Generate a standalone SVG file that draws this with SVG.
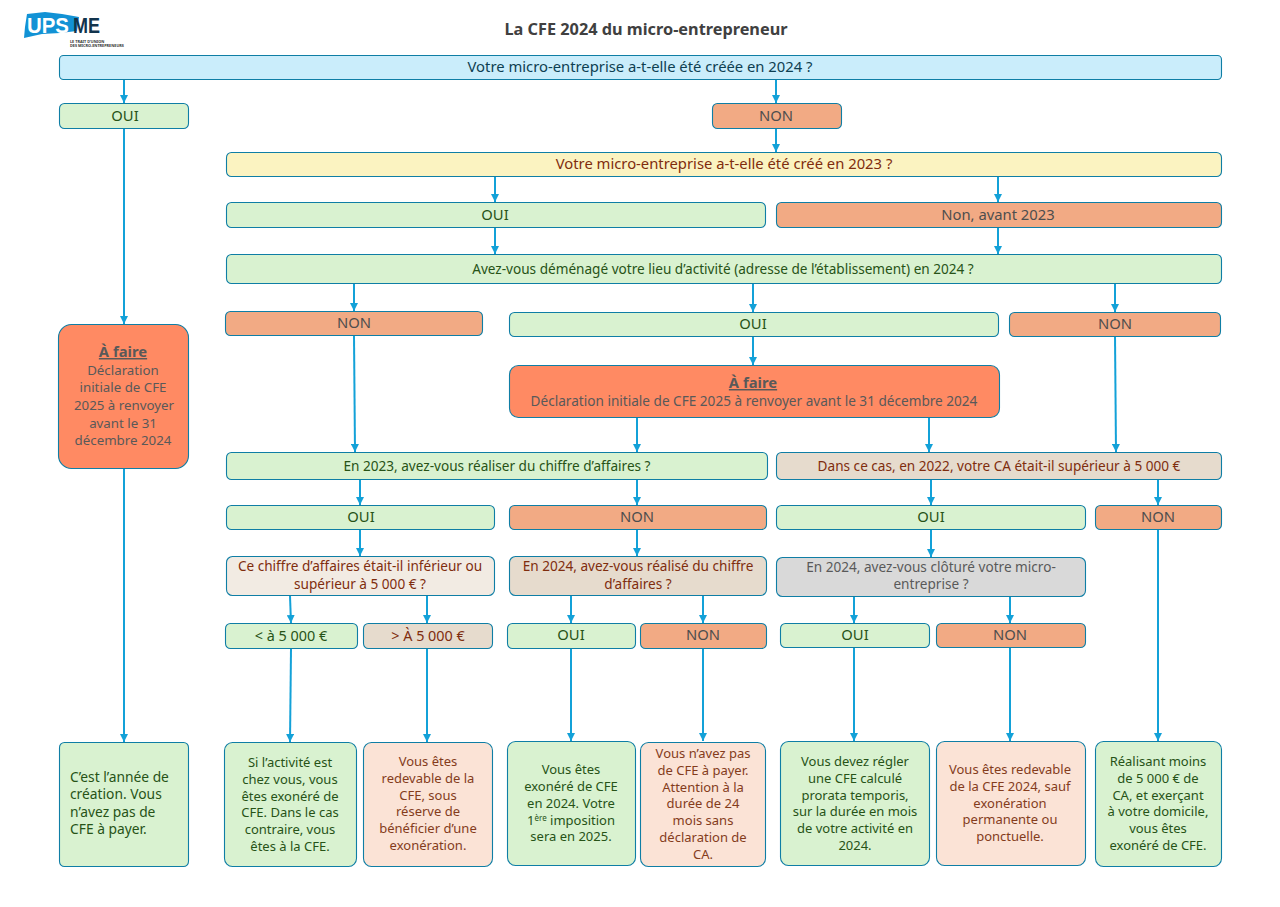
<svg xmlns="http://www.w3.org/2000/svg" width="1280" height="907" viewBox="0 0 1280 907">
<style>
text{font-family:"Noto Sans","Liberation Sans",sans-serif;text-anchor:middle;font-size:13px}
.b{stroke:#0f7ea5;stroke-width:1.1}
.g{fill:#d9f2d0}.gt{fill:#275317}
.o{fill:#f2aa84}.ot{fill:#4e4e4e}
.bl{fill:#caedfb}.blt{fill:#0e3f52}
.y{fill:#fbf3c1}.yt{fill:#7f2d0e}
.f{fill:#ff8a63}.ft{fill:#595959}
.s{fill:#e6dbcd}.st{fill:#7f2d0e}
.s2{fill:#f2ebe3}
.gr{fill:#d9d9d9}.grt{fill:#595959}
.p{fill:#fbe3d6}.pt{fill:#843c1c}
.l{font-size:14.8px}
.m{font-size:13.6px}
.v{font-size:14.4px}
.c line{stroke:#13a1d8;stroke-width:2;marker-end:url(#a)}
</style>
<defs><marker id="a" markerUnits="userSpaceOnUse" markerWidth="9" markerHeight="8" refX="8" refY="4" orient="auto"><path d="M0 0L8 4L0 8Z" fill="#13a1d8"/></marker></defs>
<rect width="1280" height="907" fill="#fff"/>
<g id="logo">
<path d="M27 14L45 12L62 14L79 17L77 31L60 33L42 34L24 38L25 27Z" fill="#1292d5"/>
<text x="27" y="33" style="font-size:22px;font-weight:700;font-family:'Liberation Sans';fill:#fff;text-anchor:start" textLength="42" lengthAdjust="spacingAndGlyphs">UPS</text>
<text x="73" y="33" style="font-size:22px;font-weight:700;font-family:'Liberation Sans';fill:#12344d;text-anchor:start" textLength="27" lengthAdjust="spacingAndGlyphs">ME</text>
<text x="70" y="43" style="font-size:3.8px;font-weight:700;text-anchor:start;fill:#333">LE TRAIT D’UNION</text>
<text x="70" y="47" style="font-size:3.8px;font-weight:700;text-anchor:start;fill:#333">DES MICRO-ENTREPRENEURS</text>
</g>
<text id="title" x="646" y="35" style="font-size:16.3px;font-weight:700;fill:#404040">La CFE 2024 du micro-entrepreneur</text>
<g class="c">
<line x1="124" y1="80" x2="124" y2="103"/>
<line x1="776" y1="80" x2="776" y2="103"/>
<line x1="776" y1="129" x2="776" y2="152"/>
<line x1="495" y1="177" x2="495" y2="202"/>
<line x1="998" y1="177" x2="998" y2="202"/>
<line x1="495" y1="228" x2="495" y2="254"/>
<line x1="998" y1="228" x2="998" y2="254"/>
<line x1="124" y1="129" x2="124" y2="324"/>
<line x1="124" y1="468" x2="124" y2="742"/>
<line x1="354" y1="284" x2="354" y2="311"/>
<line x1="753" y1="284" x2="753" y2="312"/>
<line x1="1115" y1="284" x2="1115" y2="312"/>
<line x1="753" y1="336" x2="753" y2="365"/>
<line x1="354" y1="336" x2="355" y2="452"/>
<line x1="1115" y1="336" x2="1116" y2="452"/>
<line x1="637" y1="417" x2="637" y2="452"/>
<line x1="929" y1="417" x2="929" y2="452"/>
<line x1="360" y1="480" x2="360" y2="505"/>
<line x1="637" y1="480" x2="637" y2="505"/>
<line x1="931" y1="480" x2="931" y2="505"/>
<line x1="1158" y1="480" x2="1158" y2="505"/>
<line x1="360" y1="530" x2="360" y2="556"/>
<line x1="637" y1="530" x2="637" y2="556"/>
<line x1="931" y1="530" x2="931" y2="557"/>
<line x1="290" y1="596" x2="291" y2="623"/>
<line x1="427" y1="596" x2="427" y2="623"/>
<line x1="571" y1="596" x2="571" y2="623"/>
<line x1="703" y1="596" x2="703" y2="623"/>
<line x1="854" y1="597" x2="854" y2="623"/>
<line x1="1010" y1="597" x2="1010" y2="623"/>
<line x1="291" y1="649" x2="290" y2="742"/>
<line x1="427" y1="649" x2="427" y2="742"/>
<line x1="571" y1="649" x2="571" y2="741"/>
<line x1="703" y1="649" x2="703" y2="741"/>
<line x1="854" y1="648" x2="854" y2="741"/>
<line x1="1010" y1="648" x2="1010" y2="741"/>
<line x1="1158" y1="530" x2="1158" y2="741"/>
</g>
<g id="q2024"><rect class="b bl" x="59.500" y="55.500" width="1162" height="24" rx="4"/><text class="l blt" x="640" y="72">Votre micro-entreprise a-t-elle été créée en 2024 ?</text></g>
<g id="oui1"><rect class="b g" x="59.500" y="103.500" width="129" height="25" rx="5"/><text class="l gt" x="125" y="121">OUI</text></g>
<g id="non1"><rect class="b o" x="712.500" y="103.500" width="129" height="25" rx="5"/><text class="l ot" x="776" y="121">NON</text></g>
<g id="q2023"><rect class="b y" x="226.500" y="152.500" width="995" height="24" rx="5"/><text class="l yt" x="724" y="169">Votre micro-entreprise a-t-elle été créé en 2023 ?</text></g>
<g id="oui2"><rect class="b g" x="226.500" y="202.500" width="539" height="25" rx="5"/><text class="l gt" x="495" y="220">OUI</text></g>
<g id="non2"><rect class="b o" x="776.500" y="202.500" width="445" height="25" rx="5"/><text class="l ot" x="998" y="220">Non, avant 2023</text></g>
<g id="qdem"><rect class="b g" x="226.500" y="254.500" width="995" height="29" rx="5"/><text class="m gt" x="723" y="274">Avez-vous déménagé votre lieu d’activité (adresse de l’établissement) en 2024 ?</text></g>
<g id="non3"><rect class="b o" x="225.500" y="311.500" width="257" height="24" rx="5"/><text class="l ot" x="354" y="328">NON</text></g>
<g id="oui3"><rect class="b g" x="509.500" y="312.500" width="489" height="24" rx="5"/><text class="l gt" x="753" y="329">OUI</text></g>
<g id="non4"><rect class="b o" x="1009.500" y="312.500" width="211" height="24" rx="5"/><text class="l ot" x="1115" y="329">NON</text></g>
<g id="afaire1"><rect class="b f" x="58.500" y="324.500" width="130" height="144" rx="13"/><text class="l ft" x="123" y="357" style="font-weight:700;text-decoration:underline">À faire</text><text class="ft" x="123" y="375" style="font-size:13.3px">Déclaration</text><text class="ft" x="123" y="392" style="font-size:13.3px">initiale de CFE</text><text class="ft" x="124" y="410" style="font-size:13.3px">2025 à renvoyer</text><text class="ft" x="123" y="428" style="font-size:13.3px">avant le 31</text><text class="ft" x="123" y="445" style="font-size:13.3px">décembre 2024</text></g>
<g id="afaire2"><rect class="b f" x="509.500" y="365.500" width="490" height="52" rx="9"/><text class="l ft" x="753" y="388" style="font-weight:700;text-decoration:underline">À faire</text><text class="m ft" x="754" y="406">Déclaration initiale de CFE 2025 à renvoyer avant le 31 décembre 2024</text></g>
<g id="q2023ca"><rect class="b g" x="226.500" y="452.500" width="541" height="27" rx="5"/><text class="m gt" x="497" y="471">En 2023, avez-vous réaliser du chiffre d’affaires ?</text></g>
<g id="q2022"><rect class="b s" x="776.500" y="452.500" width="445" height="27" rx="5"/><text class="m st" x="999" y="471">Dans ce cas, en 2022, votre CA était-il supérieur à 5 000 €</text></g>
<g id="oui5"><rect class="b g" x="226.500" y="505.500" width="268" height="24" rx="5"/><text class="l gt" x="361" y="522">OUI</text></g>
<g id="non5"><rect class="b o" x="509.500" y="505.500" width="257" height="24" rx="5"/><text class="l ot" x="637" y="522">NON</text></g>
<g id="oui6"><rect class="b g" x="776.500" y="505.500" width="309" height="24" rx="5"/><text class="l gt" x="931" y="522">OUI</text></g>
<g id="non6"><rect class="b o" x="1095.500" y="505.500" width="126" height="24" rx="5"/><text class="l ot" x="1158" y="522">NON</text></g>
<g id="qinf"><rect class="b s2" x="226.500" y="556.500" width="268" height="39" rx="6"/><text class="m st" x="360" y="571">Ce chiffre d’affaires était-il inférieur ou</text><text class="m st" x="360" y="589">supérieur à 5 000 € ?</text></g>
<g id="q2024ca"><rect class="b s" x="509.500" y="556.500" width="257" height="39" rx="6"/><text class="m st" x="638" y="571">En 2024, avez-vous réalisé du chiffre</text><text class="m st" x="638" y="589">d’affaires ?</text></g>
<g id="qclot"><rect class="b gr" x="776.500" y="557.500" width="309" height="39" rx="6"/><text class="m grt" x="931" y="572">En 2024, avez-vous clôturé votre micro-</text><text class="m grt" x="931" y="589">entreprise ?</text></g>
<g id="inf"><rect class="b g" x="225.500" y="623.500" width="132" height="25" rx="5"/><text class="v gt" x="291" y="641">&lt; à 5 000 €</text></g>
<g id="sup"><rect class="b s" x="363.500" y="623.500" width="129" height="25" rx="5"/><text class="v st" x="428" y="641">&gt; À 5 000 €</text></g>
<g id="oui7"><rect class="b g" x="507.500" y="623.500" width="128" height="25" rx="5"/><text class="l gt" x="571" y="640">OUI</text></g>
<g id="non7"><rect class="b o" x="640.500" y="623.500" width="126" height="25" rx="5"/><text class="l ot" x="703" y="640">NON</text></g>
<g id="oui8"><rect class="b g" x="780.500" y="623.500" width="149" height="24" rx="5"/><text class="l gt" x="855" y="640">OUI</text></g>
<g id="non8"><rect class="b o" x="936.500" y="623.500" width="149" height="24" rx="5"/><text class="l ot" x="1010" y="640">NON</text></g>
<g id="r1"><rect class="b g" x="59.500" y="742.500" width="129" height="124" rx="5"/><text class="gt" x="70" y="782" style="text-anchor:start;font-size:13.8px">C’est l’année de</text><text class="gt" x="70" y="799" style="text-anchor:start;font-size:13.8px">création. Vous</text><text class="gt" x="70" y="817" style="text-anchor:start;font-size:13.8px">n’avez pas de</text><text class="gt" x="70" y="834" style="text-anchor:start;font-size:13.8px">CFE à payer.</text></g>
<g id="r2"><rect class="b g" x="224.500" y="742.500" width="132" height="124" rx="8"/><text class="gt" x="290" y="767">Si l’activité est</text><text class="gt" x="290" y="784">chez vous, vous</text><text class="gt" x="290" y="801">êtes exonéré de</text><text class="gt" x="290" y="817">CFE. Dans le cas</text><text class="gt" x="290" y="834">contraire, vous</text><text class="gt" x="290" y="851">êtes à la CFE.</text></g>
<g id="r3"><rect class="b p" x="363.500" y="742.500" width="129" height="124" rx="8"/><text class="pt" x="428" y="766">Vous êtes</text><text class="pt" x="428" y="783">redevable de la</text><text class="pt" x="428" y="800">CFE, sous</text><text class="pt" x="428" y="816">réserve de</text><text class="pt" x="428" y="833">bénéficier d’une</text><text class="pt" x="428" y="850">exonération.</text></g>
<g id="r4"><rect class="b g" x="507.500" y="741.500" width="128" height="124" rx="8"/><text class="gt" x="571" y="774">Vous êtes</text><text class="gt" x="571" y="791">exonéré de CFE</text><text class="gt" x="571" y="808">en 2024. Votre</text><text class="gt" x="571" y="825">1<tspan dy="-4" style="font-size:8px">ère</tspan><tspan dy="4"> imposition</tspan></text><text class="gt" x="571" y="841">sera en 2025.</text></g>
<g id="r5"><rect class="b p" x="640.500" y="742.500" width="125" height="124" rx="8"/><text class="pt" x="703" y="758">Vous n’avez pas</text><text class="pt" x="703" y="775">de CFE à payer.</text><text class="pt" x="703" y="792">Attention à la</text><text class="pt" x="703" y="808">durée de 24</text><text class="pt" x="703" y="825">mois sans</text><text class="pt" x="703" y="842">déclaration de</text><text class="pt" x="703" y="859">CA.</text></g>
<g id="r6"><rect class="b g" x="780.500" y="741.500" width="149" height="124" rx="8"/><text class="gt" x="855" y="766">Vous devez régler</text><text class="gt" x="855" y="783">une CFE calculé</text><text class="gt" x="855" y="800">prorata temporis,</text><text class="gt" x="855" y="816">sur la durée en mois</text><text class="gt" x="855" y="833">de votre activité en</text><text class="gt" x="855" y="850">2024.</text></g>
<g id="r7"><rect class="b p" x="936.500" y="741.500" width="149" height="124" rx="8"/><text class="pt" x="1010" y="774">Vous êtes redevable</text><text class="pt" x="1010" y="791">de la CFE 2024, sauf</text><text class="pt" x="1010" y="808">exonération</text><text class="pt" x="1010" y="824">permanente ou</text><text class="pt" x="1010" y="841">ponctuelle.</text></g>
<g id="r8"><rect class="b g" x="1095.500" y="741.500" width="126" height="125" rx="8"/><text class="gt" x="1158" y="766">Réalisant moins</text><text class="gt" x="1158" y="783">de 5 000 € de</text><text class="gt" x="1158" y="800">CA, et exerçant</text><text class="gt" x="1158" y="816">à votre domicile,</text><text class="gt" x="1158" y="833">vous êtes</text><text class="gt" x="1158" y="850">exonéré de CFE.</text></g>
</svg>
